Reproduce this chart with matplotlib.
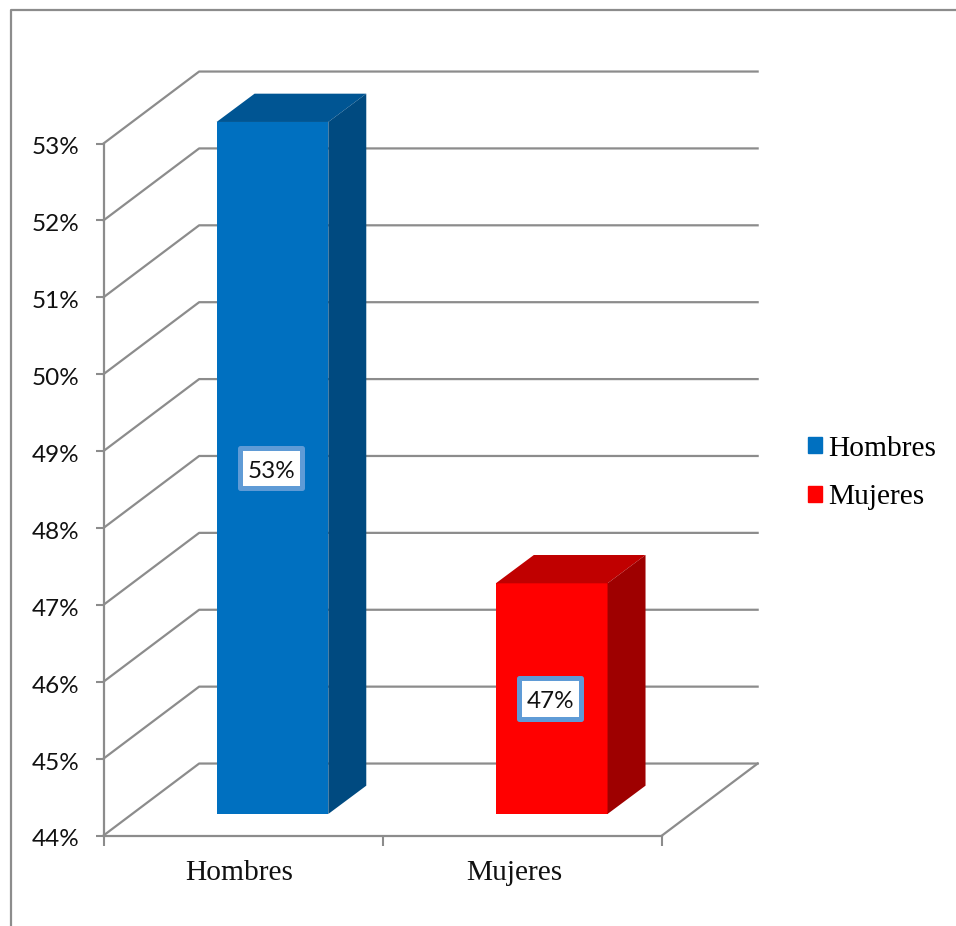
#!/usr/bin/env python3

import matplotlib
matplotlib.use('Agg')
import matplotlib.pyplot as plt
from matplotlib.lines import Line2D
from matplotlib.patches import Patch, Rectangle
from matplotlib.transforms import ScaledTranslation

categories = ['Hombres', 'Mujeres']
values = [53, 47]
value_labels = ['53%', '47%']
y_ticks = [44, 45, 46, 47, 48, 49, 50, 51, 52, 53]

W, H = 956, 926
GRAY = '#8c8c8c'
front_colors = ['#0070c0', '#ff0000']
top_colors = ['#005593', '#c00000']
side_colors = ['#004a80', '#9e0000']

fig = plt.figure(figsize=(W / 100, H / 100), dpi=100)
ax = fig.add_axes([103.5 / W, (H - 835.5) / H, 558.5 / W, 692 / H])
ax.patch.set_alpha(0)
ax.set_xlim(0, 2)
ax.set_ylim(44, 53)

# depth of the fake 3d box, in data units
depth_x = 0.3425
depth_y = 0.936

# back wall and side wall
for y in y_ticks:
    ax.plot([0, depth_x, 2 + depth_x], [y, y + depth_y, y + depth_y],
            c=GRAY, lw=1.6, clip_on=False, zorder=1)
ax.plot([2, 2 + depth_x], [44, 44 + depth_y], c=GRAY, lw=1.6, clip_on=False, zorder=1)

# bars
bar_w = 0.4
bar_dx = 0.105
bar_dy = 0.28
side_x = 0.136
side_y = 0.368
for i, v in enumerate(values):
    x0 = i + 0.5 + bar_dx - bar_w / 2
    x1 = x0 + bar_w
    base = 44 + bar_dy
    top = v + bar_dy
    ax.bar(x0, top - base, bottom=base, width=bar_w, align='edge',
           color=front_colors[i], clip_on=False, zorder=3)
    ax.fill([x0, x1, x1 + side_x, x0 + side_x],
            [top, top, top + side_y, top + side_y],
            color=top_colors[i], lw=0, clip_on=False, zorder=3)
    ax.fill([x1, x1 + side_x, x1 + side_x, x1],
            [base, base + side_y, top + side_y, top],
            color=side_colors[i], lw=0, clip_on=False, zorder=3)
    # data label box
    cx = (x0 + x1) / 2 - 0.005
    cy = (base + top) / 2
    ax.add_patch(Rectangle((cx - 0.111, cy - 0.266), 0.222, 0.532, fc='white', ec='#5f9bd6',
                           lw=3.6, joinstyle='round', clip_on=False, zorder=4))
    ax.text(cx, cy - 0.04, value_labels[i], family='Lato', fontsize=17.5, color='#111111',
            ha='center', va='center', zorder=5)

# axes
for s in ['top', 'right']:
    ax.spines[s].set_visible(False)
for s in ['left', 'bottom']:
    ax.spines[s].set_color(GRAY)
    ax.spines[s].set_linewidth(1.6)
    ax.spines[s].set_zorder(2)
ax.set_yticks(y_ticks)
ax.set_yticklabels(['%d%%' % y for y in y_ticks], family='Lato', fontsize=17.5, color='#111111')
ax.tick_params(axis='y', length=5.5, width=1.5, color=GRAY, pad=12)
# tick labels sit a little under their ticks
label_shift = ScaledTranslation(0, -2.5 / 100, fig.dpi_scale_trans)
for label in ax.get_yticklabels():
    label.set_transform(label.get_transform() + label_shift)
ax.set_xticks([0, 1, 2])
ax.set_xticklabels([])
ax.tick_params(axis='x', length=7, width=1.5, color=GRAY)
ax.set_xticks([0.485, 1.472], minor=True)
ax.set_xticklabels(categories, minor=True, family='Liberation Serif', fontsize=21.2, color='#111111')
ax.tick_params(axis='x', which='minor', length=0, pad=18)

# legend
handles = [Patch(color=c, label=n) for c, n in zip(front_colors, categories)]
fig.legend(handles=handles, loc='center left', bbox_to_anchor=(796 / W, (H - 473) / H),
           frameon=False, prop={'family': 'Liberation Serif', 'size': 21.2},
           handlelength=0.48, handleheight=0.48, handletextpad=0.22,
           labelspacing=0.77, borderpad=0, borderaxespad=0.4)

# outer frame, only the top and left edges are in the picture
fig.add_artist(Line2D([10.5 / W, 10.5 / W, 1], [0, (H - 9.5) / H, (H - 9.5) / H],
                      color=GRAY, lw=1.6))

fig.savefig('out.png', dpi=100)
